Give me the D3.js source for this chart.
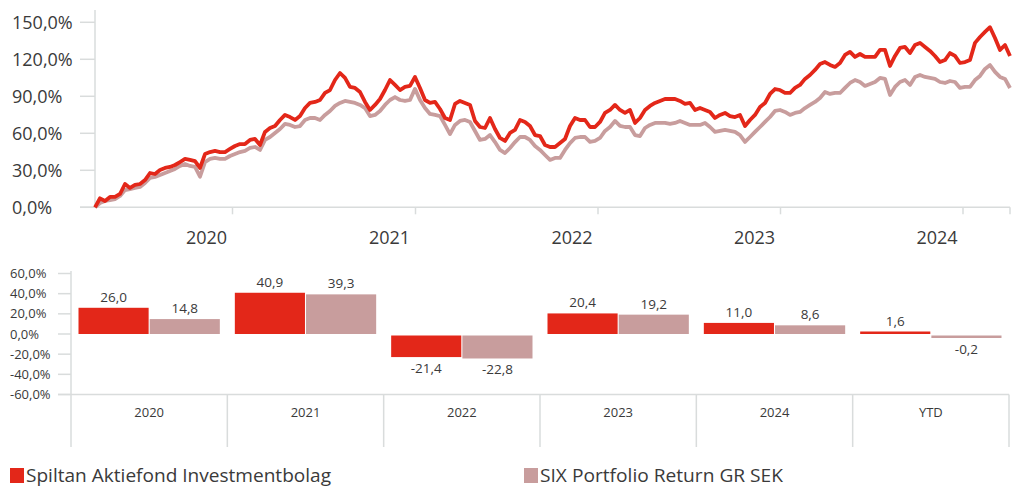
<!DOCTYPE html>
<html>
  <head>
    <meta charset="utf-8" />
    <title>Spiltan Aktiefond Investmentbolag</title>
    <style>
      body { margin: 0; background: #fff; }
      svg text { font-family: "Open Sans", "Noto Sans", sans-serif; fill: #3a3a3a; }
    </style>
  </head>
  <body>
    <div id="chart-area"></div>

    <script type="text/javascript" src="https://d3js.org/d3.v7.min.js"></script>
    <script>
      // series names / colours
      const seriesNames = ['Spiltan Aktiefond Investmentbolag', 'SIX Portfolio Return GR SEK'];
      const seriesColors = ['#e32719', '#c89d9d'];

      // cumulative return (%), one value every 10 days from 2019-04-01
      const lineStart = new Date(2019, 3, 1);
      const stepDays = 10;
      const fundLine = [
        0, 7.3, 5.1, 8.4, 8.4, 10.8, 18.9, 15.7, 18.1, 18.9,
        22.1, 27.8, 27.0, 30.3, 31.9, 32.7, 34.3, 36.7, 39.2, 38.4,
        37.5, 31.9, 43.2, 44.8, 45.7, 44.8, 44.8, 47.3, 49.7, 51.3,
        51.3, 54.6, 55.4, 50.5, 61.1, 64.3, 65.9, 70.8, 74.9, 73.2,
        70.8, 74.0, 80.5, 84.6, 85.4, 87.0, 92.7, 95.1, 103.2, 108.9,
        104.9, 97.6, 96.8, 93.5, 85.4, 78.9, 83.0, 87.8, 95.1, 103.2,
        99.2, 95.1, 97.6, 98.4, 105.7, 96.8, 87.0, 84.6, 85.4, 79.7,
        72.4, 70.8, 83.8, 86.2, 84.6, 83.0, 70.0, 65.1, 64.3, 72.4,
        63.5, 56.2, 53.8, 60.3, 62.7, 70.8, 69.2, 65.9, 58.6, 57.8,
        50.5, 48.9, 48.9, 52.1, 55.4, 65.9, 72.4, 70.8, 70.8, 65.1,
        65.1, 69.2, 76.5, 78.9, 83.0, 78.9, 76.5, 78.9, 68.4, 72.4,
        78.9, 82.2, 84.6, 86.2, 87.8, 87.8, 87.8, 86.2, 83.8, 84.6,
        78.9, 80.5, 78.9, 77.3, 72.4, 74.9, 76.5, 74.0, 73.2, 74.9,
        65.9, 70.8, 74.9, 81.3, 84.6, 91.9, 95.9, 95.1, 92.7, 92.7,
        96.8, 99.2, 104.1, 107.3, 111.4, 116.2, 117.8, 115.4, 113.8, 117.0,
        123.5, 126.0, 121.9, 124.3, 121.9, 121.9, 121.9, 127.6, 127.6, 114.6,
        122.7, 129.2, 130.0, 125.1, 131.6, 133.3, 130.0, 126.8, 122.7, 117.8,
        119.4, 125.1, 122.7, 117.0, 117.8, 119.4, 133.3, 138.1, 142.2, 146.0,
        137.3, 127.6, 131.6, 122.7
      ];
      const indexLine = [
        0, 3.5, 5.1, 5.9, 6.7, 9.2, 14.0, 14.8, 15.7, 16.5,
        19.7, 23.8, 24.6, 26.2, 27.8, 29.4, 31.1, 33.5, 35.1, 33.5,
        32.7, 24.8, 36.7, 39.2, 40.0, 39.2, 39.2, 41.6, 43.2, 44.8,
        45.7, 48.1, 48.9, 46.5, 54.6, 57.0, 60.3, 63.5, 67.6, 66.8,
        65.1, 65.9, 70.8, 72.4, 72.4, 70.8, 74.9, 78.1, 82.2, 84.6,
        86.2, 85.4, 84.6, 83.0, 80.5, 74.0, 74.9, 78.1, 83.0, 87.0,
        89.4, 87.0, 86.2, 87.0, 96.0, 87.0, 80.5, 75.7, 74.9, 74.0,
        66.8, 59.4, 66.8, 70.0, 70.8, 69.2, 61.9, 54.6, 55.4, 58.6,
        52.9, 46.5, 44.0, 48.1, 52.9, 57.0, 57.0, 54.6, 49.7, 46.5,
        42.4, 38.4, 40.0, 40.0, 46.5, 52.1, 56.2, 57.0, 57.0, 53.0,
        53.8, 56.2, 61.9, 65.1, 70.0, 66.0, 65.1, 65.1, 58.6, 57.8,
        64.3, 66.8, 68.4, 68.4, 68.4, 67.6, 68.4, 70.0, 68.4, 66.8,
        66.8, 66.8, 68.4, 65.1, 61.1, 61.9, 62.7, 61.9, 61.1, 58.6,
        53.0, 57.0, 61.1, 65.1, 69.2, 73.2, 78.1, 78.9, 77.3, 74.9,
        76.5, 77.3, 80.5, 83.0, 85.4, 88.6, 93.5, 91.9, 92.7, 92.7,
        96.8, 100.8, 103.2, 101.6, 98.4, 100.0, 101.6, 104.9, 104.1, 91.1,
        97.6, 101.6, 103.2, 99.2, 105.7, 107.3, 105.7, 104.9, 104.1, 101.6,
        100.8, 102.4, 101.6, 96.8, 97.6, 97.6, 103.2, 106.5, 112.2, 115.3,
        109.8, 105.7, 104.1, 96.7
      ];
      const lineTicks = [0, 30, 60, 90, 120, 150];

      // yearly returns (%)
      const years = ['2020', '2021', '2022', '2023', '2024', 'YTD'];
      const fundReturns = [26.0, 40.9, -21.4, 20.4, 11.0, 1.6];
      const indexReturns = [14.8, 39.3, -22.8, 19.2, 8.6, -0.2];
      const barTicks = [60, 40, 20, 0, -20, -40, -60];

      const locale = d3.formatLocale({ decimal: ',', thousands: ' ', grouping: [3], currency: ['', ' kr'], minus: '-' });
      const fmt = locale.format('.1f');
      const gridColor = '#d9dcdc';

      const svg = d3.select('#chart-area').append('svg')
        .attr('width', 1025)
        .attr('height', 488);

      // ---------- top: line chart ----------
      const lineEnd = d3.timeDay.offset(lineStart, (fundLine.length - 1) * stepDays);
      const x = d3.scaleTime().domain([lineStart, lineEnd]).range([95, 1010]);
      const y = d3.scaleLinear().domain([0, 150]).range([207.3, 22.3]);

      const lineChart = svg.append('g');

      lineChart.append('line')
        .attr('x1', 95).attr('x2', 95)
        .attr('y1', 10).attr('y2', y(0))
        .attr('stroke', gridColor).attr('stroke-width', 1.5);

      lineChart.append('line')
        .attr('x1', 80).attr('x2', 1010)
        .attr('y1', y(0)).attr('y2', y(0))
        .attr('stroke', gridColor).attr('stroke-width', 1.5);

      lineChart.selectAll('.ytick')
        .data(lineTicks)
        .enter()
        .append('line')
        .attr('x1', 80).attr('x2', 95)
        .attr('y1', d => y(d)).attr('y2', d => y(d))
        .attr('stroke', gridColor).attr('stroke-width', 1.5);

      lineChart.selectAll('.ylabel')
        .data(lineTicks)
        .enter()
        .append('text')
        .attr('x', 12)
        .attr('y', d => y(d) + 6.5)
        .style('font-size', '18px')
        .text(d => fmt(d) + '%');

      const yearTicks = d3.timeYear.range(new Date(2020, 0, 1), lineEnd);
      lineChart.selectAll('.xtick')
        .data(yearTicks.concat([lineEnd]))
        .enter()
        .append('line')
        .attr('x1', d => x(d)).attr('x2', d => x(d))
        .attr('y1', y(0)).attr('y2', y(0) + 7)
        .attr('stroke', gridColor).attr('stroke-width', 1.5);

      lineChart.selectAll('.xlabel')
        .data(yearTicks)
        .enter()
        .append('text')
        .attr('x', d => x(d) - 26)
        .attr('y', 244)
        .attr('text-anchor', 'middle')
        .style('font-size', '18px')
        .text(d => d.getFullYear());

      const line = d3.line()
        .x((d, i) => x(d3.timeDay.offset(lineStart, i * stepDays)))
        .y(d => y(d));

      [indexLine, fundLine].forEach((s, k) => {
        lineChart.append('path')
          .datum(s)
          .attr('fill', 'none')
          .attr('stroke', seriesColors[1 - k])
          .attr('stroke-width', 3.8)
          .attr('stroke-linejoin', 'round')
          .attr('d', line);
      });

      // ---------- bottom: yearly bars ----------
      const xb = d3.scaleBand().domain(years).range([71, 1009]);
      const xInner = d3.scaleBand().domain([0, 1]).range([7.5, xb.bandwidth() - 7.5]).paddingInner(0.015);
      const yb = d3.scaleLinear().domain([-60, 60]).range([394.5, 273.5]);

      const barChart = svg.append('g');

      barChart.append('line')
        .attr('x1', 71).attr('x2', 71)
        .attr('y1', 271).attr('y2', 447)
        .attr('stroke', gridColor).attr('stroke-width', 1.5);

      barChart.selectAll('.btick')
        .data(barTicks)
        .enter()
        .append('line')
        .attr('x1', 58).attr('x2', 71)
        .attr('y1', d => yb(d)).attr('y2', d => yb(d))
        .attr('stroke', gridColor).attr('stroke-width', 1.5);

      barChart.append('line')
        .attr('x1', 58).attr('x2', 1009)
        .attr('y1', yb(-60)).attr('y2', yb(-60))
        .attr('stroke', gridColor).attr('stroke-width', 1.5);

      barChart.selectAll('.sep')
        .data(years)
        .enter()
        .append('line')
        .attr('x1', d => xb(d) + xb.bandwidth()).attr('x2', d => xb(d) + xb.bandwidth())
        .attr('y1', yb(-60)).attr('y2', 447)
        .attr('stroke', gridColor).attr('stroke-width', 1.5);

      barChart.selectAll('.blabel')
        .data(barTicks)
        .enter()
        .append('text')
        .attr('x', 10)
        .attr('y', d => yb(d) + 4.5)
        .style('font-size', '13px')
        .text(d => fmt(d) + '%');

      barChart.selectAll('.cat')
        .data(years)
        .enter()
        .append('text')
        .attr('x', d => xb(d) + xb.bandwidth() / 2)
        .attr('y', 416.5)
        .attr('text-anchor', 'middle')
        .style('font-size', '13px')
        .text(d => d);

      const bars = [];
      years.forEach((yr, i) => {
        bars.push({ year: yr, k: 0, v: fundReturns[i] });
        bars.push({ year: yr, k: 1, v: indexReturns[i] });
      });

      const barTop = d => (d.v >= 0 ? yb(d.v) - Math.max(0, 2.5 - (yb(0) - yb(d.v))) : yb(0) + 1.5);
      const barHeight = d => Math.max(Math.abs(yb(d.v) - yb(0)), 2.5);

      barChart.selectAll('.bar')
        .data(bars)
        .enter()
        .append('rect')
        .attr('x', d => xb(d.year) + xInner(d.k))
        .attr('width', xInner.bandwidth())
        .attr('y', barTop)
        .attr('height', barHeight)
        .attr('fill', d => seriesColors[d.k]);

      barChart.selectAll('.val')
        .data(bars)
        .enter()
        .append('text')
        .attr('x', d => xb(d.year) + xInner(d.k) + xInner.bandwidth() / 2)
        .attr('y', d => (d.v >= 0 ? barTop(d) - 6 : barTop(d) + barHeight(d) + 16))
        .attr('text-anchor', 'middle')
        .style('font-size', '13.5px')
        .text(d => fmt(d.v));

      // ---------- legend ----------
      const legendX = [10, 524];
      const legendW = [305, 243];
      const legend = svg.selectAll('.legend')
        .data(seriesNames)
        .enter()
        .append('g')
        .attr('transform', (d, i) => `translate(${legendX[i]}, 0)`);

      legend.append('rect')
        .attr('x', 0).attr('y', 468)
        .attr('width', 14).attr('height', 15)
        .attr('fill', (d, i) => seriesColors[i]);

      legend.append('text')
        .attr('x', 16)
        .attr('y', 482)
        .attr('textLength', (d, i) => legendW[i])
        .attr('lengthAdjust', 'spacingAndGlyphs')
        .style('font-size', '18px')
        .text(d => d);
    </script>
  </body>
</html>
